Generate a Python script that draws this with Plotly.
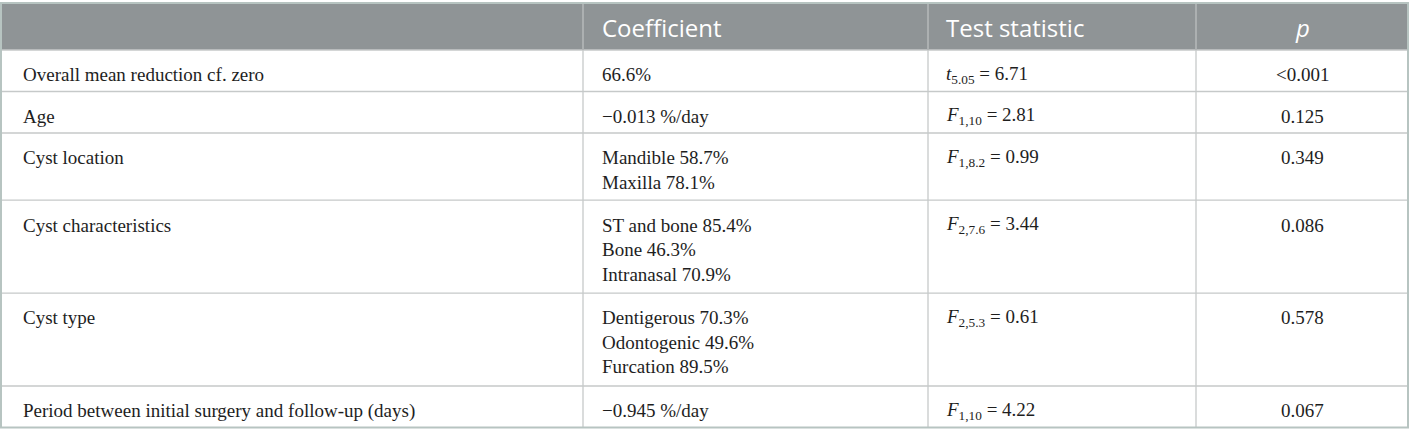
import plotly.graph_objects as go

# ---------------- data ----------------
headers = ["", "Coefficient", "Test statistic", "<i>p</i>"]

variables = [
    "Overall mean reduction cf. zero",
    "Age",
    "Cyst location",
    "Cyst characteristics",
    "Cyst type",
    "Period between initial surgery and follow-up (days)",
]

coefficients = [
    ["66.6%"],
    ["\u22120.013 %/day"],
    ["Mandible 58.7%", "Maxilla 78.1%"],
    ["ST and bone 85.4%", "Bone 46.3%", "Intranasal 70.9%"],
    ["Dentigerous 70.3%", "Odontogenic 49.6%", "Furcation 89.5%"],
    ["\u22120.945 %/day"],
]

stat_symbols = ["t", "F", "F", "F", "F", "F"]
stat_df = ["5.05", "1,10", "1,8.2", "2,7.6", "2,5.3", "1,10"]
stat_values = ["6.71", "2.81", "0.99", "3.44", "0.61", "4.22"]

p_values = ["&lt;0.001", "0.125", "0.349", "0.086", "0.578", "0.067"]

# relative column widths
col_widths = [582, 345, 268, 212]

# ---------------- style / layout ----------------
W, H = 1411, 434
LEFT, TOP = 1, 3
HEADER_H = 47
ROW_H = 41.5
EXTRA_LINE_H = 25.7
FIRST_LINE = 24.8
LINE_GAP = 24.5
PADX = [20, 17, 16, 0]

HEADER_BG = "#8f9496"
GRID = "#c6c9c9"
BORDER = "#b7c4c1"
TEXT = "#1e1e1e"
BODY_FONT = dict(family="Liberation Serif", size=19, color=TEXT)
HEAD_FONT = dict(family="Open Sans", size=24, color="white")
ALIGN = ["left", "left", "left", "center"]

col_edges = [LEFT]
for w in col_widths:
    col_edges.append(col_edges[-1] + w)

stat_text = [f"<i>{s}</i><sub>{d}</sub> = {v}" for s, d, v in zip(stat_symbols, stat_df, stat_values)]
columns = [
    [[v] for v in variables],
    coefficients,
    [[t] for t in stat_text],
    [[p] for p in p_values],
]

n_lines = [max(len(col[i]) for col in columns) for i in range(len(variables))]
row_tops = [TOP + HEADER_H]
for n in n_lines:
    row_tops.append(row_tops[-1] + ROW_H + EXTRA_LINE_H * (n - 1))

fig = go.Figure()
shapes = []
annotations = []

# header background
shapes.append(dict(type="rect", xref="x", yref="y", x0=col_edges[0], x1=col_edges[-1],
                   y0=TOP, y1=TOP + HEADER_H, fillcolor=HEADER_BG, line=dict(width=0), layer="below"))

# horizontal grid lines between body rows
for y in row_tops[:-1]:
    shapes.append(dict(type="line", xref="x", yref="y", x0=col_edges[0], x1=col_edges[-1],
                       y0=y, y1=y, line=dict(color=GRID, width=1.3)))

# vertical column separators
for x in col_edges[1:-1]:
    shapes.append(dict(type="line", xref="x", yref="y", x0=x, x1=x,
                       y0=TOP, y1=row_tops[-1], line=dict(color=GRID, width=1.3)))
    shapes.append(dict(type="line", xref="x", yref="y", x0=x, x1=x,
                       y0=TOP, y1=TOP + HEADER_H, line=dict(color="#a9adae", width=1.3)))

# outer border
shapes.append(dict(type="rect", xref="x", yref="y", x0=col_edges[0], x1=col_edges[-1],
                   y0=TOP, y1=row_tops[-1], line=dict(color=BORDER, width=2),
                   fillcolor="rgba(0,0,0,0)"))


def xpos(ci):
    if ALIGN[ci] == "center":
        return (col_edges[ci] + col_edges[ci + 1]) / 2
    return col_edges[ci] + PADX[ci]


# header texts
for ci, h in enumerate(headers):
    if not h:
        continue
    annotations.append(dict(x=xpos(ci), y=TOP + HEADER_H / 2 + 0.5, xref="x", yref="y", text=h,
                            showarrow=False, xanchor=ALIGN[ci], yanchor="middle", font=HEAD_FONT))

# body texts
for ri in range(len(variables)):
    for ci, col in enumerate(columns):
        for li, line in enumerate(col[ri]):
            annotations.append(dict(x=xpos(ci), y=row_tops[ri] + FIRST_LINE + LINE_GAP * li,
                                    xref="x", yref="y", text=line, showarrow=False,
                                    xanchor=ALIGN[ci], yanchor="middle", font=BODY_FONT))

fig.update_layout(
    width=W,
    height=H,
    margin=dict(l=0, r=0, t=0, b=0),
    paper_bgcolor="white",
    plot_bgcolor="white",
    xaxis=dict(range=[0, W], visible=False, fixedrange=True),
    yaxis=dict(range=[H, 0], visible=False, fixedrange=True),
    shapes=shapes,
    annotations=annotations,
    showlegend=False,
)

fig.write_html("out.html", config={"displayModeBar": False},
               post_script="document.body.style.margin='0';")
